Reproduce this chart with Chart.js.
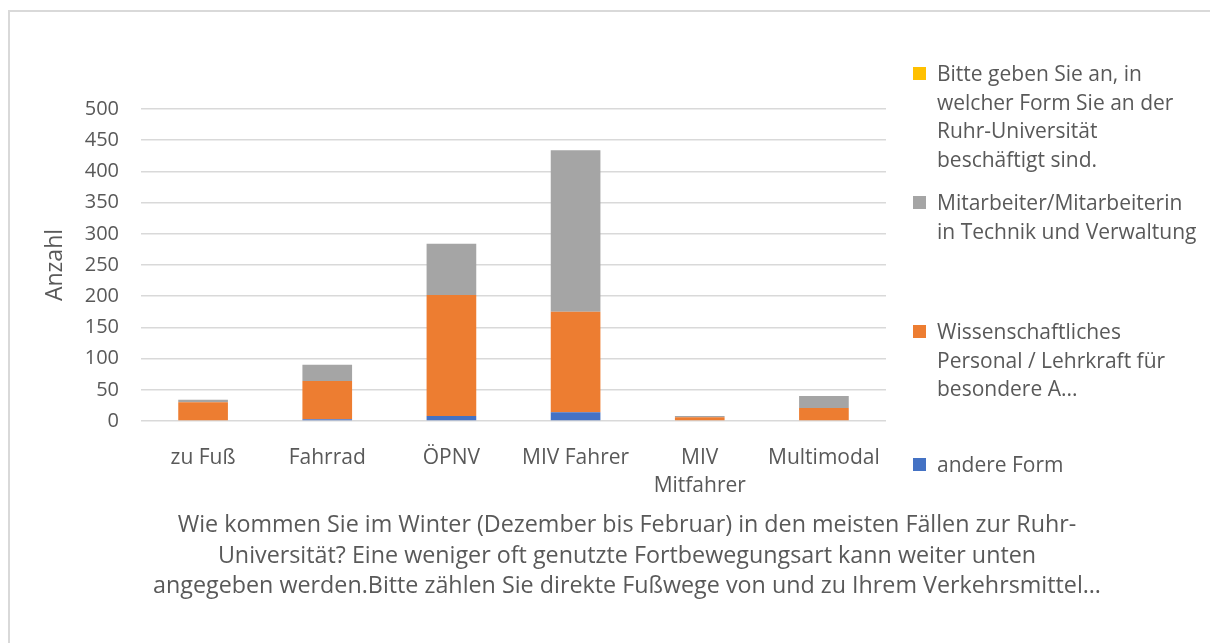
<!DOCTYPE html>
<html>
<head>
<meta charset="utf-8">
<script src="https://cdn.jsdelivr.net/npm/chart.js@4.4.1/dist/chart.umd.min.js"></script>
<style>
    html, body {
        margin: 0;
        padding: 0;
        background: #ffffff;
        overflow: hidden;
    }
    #wrap {
        position: relative;
        width: 1210px;
        height: 643px;
    }
    #frame {
        position: absolute;
        left: 8px;
        top: 10px;
        width: 1220px;
        height: 660px;
        border: 2px solid #d9d9d9;
        box-sizing: border-box;
    }
    #chart {
        position: absolute;
        left: 0;
        top: 0;
    }
    .legend-item {
        position: absolute;
        left: 913px;
        font-family: "Open Sans", sans-serif;
        font-size: 21px;
        line-height: 28.5px;
        color: #595959;
        white-space: nowrap;
    }
    .legend-box {
        position: absolute;
        left: 0;
        top: 8px;
        width: 13px;
        height: 13px;
    }
    .legend-text {
        margin-left: 24px;
    }
    #xtitle {
        position: absolute;
        left: 27px;
        width: 1200px;
        top: 508px;
        text-align: center;
        font-family: "Open Sans", sans-serif;
        font-size: 23.3px;
        line-height: 30.5px;
        color: #595959;
        white-space: nowrap;
    }
</style>
</head>
<body>
<div id="wrap">
    <div id="frame"></div>
    <canvas id="chart" width="1210" height="643"></canvas>
    <div id="legend"></div>
    <div id="xtitle"></div>
</div>
<script>
// Kategorien und Werte
const categories = ['zu Fuß', 'Fahrrad', 'ÖPNV', 'MIV Fahrer', ['MIV', 'Mitfahrer'], 'Multimodal'];

const andereForm = [0, 3, 8, 14, 0, 0];
const wissPersonal = [30, 61, 194, 161, 6, 21];
const mitarbeiterTV = [4, 26, 82, 259, 2, 19];
const bitteAngeben = [0, 0, 0, 0, 0, 0];

const seriesNames = [
    ['andere Form'],
    ['Wissenschaftliches', 'Personal / Lehrkraft für', 'besondere A...'],
    ['Mitarbeiter/Mitarbeiterin', 'in Technik und Verwaltung'],
    ['Bitte geben Sie an, in', 'welcher Form Sie an der', 'Ruhr-Universität', 'beschäftigt sind.']
];
const seriesColors = ['#4472C4', '#ED7D31', '#A5A5A5', '#FFC000'];

const yTicks = [0, 50, 100, 150, 200, 250, 300, 350, 400, 450, 500];

const xTitle = [
    'Wie kommen Sie im Winter (Dezember bis Februar) in den meisten Fällen zur Ruhr-',
    'Universität? Eine weniger oft genutzte Fortbewegungsart kann weiter unten',
    'angegeben werden.Bitte zählen Sie direkte Fußwege von und zu Ihrem Verkehrsmittel…'
];

const textColor = '#595959';
const fontFamily = '"Open Sans", sans-serif';

const allValues = [andereForm, wissPersonal, mitarbeiterTV, bitteAngeben];

const datasets = allValues.map((vals, i) => ({
    label: seriesNames[i].join(' '),
    data: vals,
    backgroundColor: seriesColors[i],
    borderWidth: 0,
    categoryPercentage: 1.0,
    barPercentage: 0.4
}));

const ctx = document.getElementById('chart').getContext('2d');

new Chart(ctx, {
    type: 'bar',
    data: {
        labels: categories,
        datasets: datasets
    },
    options: {
        responsive: false,
        animation: false,
        layout: {
            padding: { left: 42, right: 324, top: 109, bottom: 0 }
        },
        plugins: {
            legend: { display: false },
            tooltip: { enabled: false }
        },
        scales: {
            x: {
                stacked: true,
                grid: { display: false },
                border: { display: false },
                ticks: {
                    color: textColor,
                    font: { family: fontFamily, size: 21, lineHeight: 1.33 },
                    padding: 15,
                    maxRotation: 0,
                    autoSkip: false
                },
                afterFit: (scale) => { scale.height = 222; }
            },
            y: {
                stacked: true,
                min: 0,
                max: 500,
                afterBuildTicks: (scale) => {
                    scale.ticks = yTicks.map(v => ({ value: v }));
                },
                grid: {
                    color: '#d9d9d9',
                    lineWidth: 1.5,
                    drawTicks: false
                },
                border: { display: false },
                ticks: {
                    color: textColor,
                    font: { family: fontFamily, size: 20 },
                    padding: 22
                },
                title: {
                    display: true,
                    text: 'Anzahl',
                    color: textColor,
                    font: { family: fontFamily, size: 23 },
                    padding: 0
                },
                afterFit: (scale) => { scale.width = 99; }
            }
        }
    }
});

// Legende rechts, Reihenfolge umgekehrt wie im Original
const legendTops = [450, 317, 188, 59];
const legend = document.getElementById('legend');
for (let i = allValues.length - 1; i >= 0; i--) {
    const item = document.createElement('div');
    item.className = 'legend-item';
    item.style.top = legendTops[i] + 'px';
    const box = document.createElement('div');
    box.className = 'legend-box';
    box.style.background = seriesColors[i];
    const txt = document.createElement('div');
    txt.className = 'legend-text';
    txt.innerHTML = seriesNames[i].join('<br>');
    item.appendChild(box);
    item.appendChild(txt);
    legend.appendChild(item);
}

// Achsentitel unten als Text
document.getElementById('xtitle').innerHTML = xTitle.join('<br>');
</script>
</body>
</html>
